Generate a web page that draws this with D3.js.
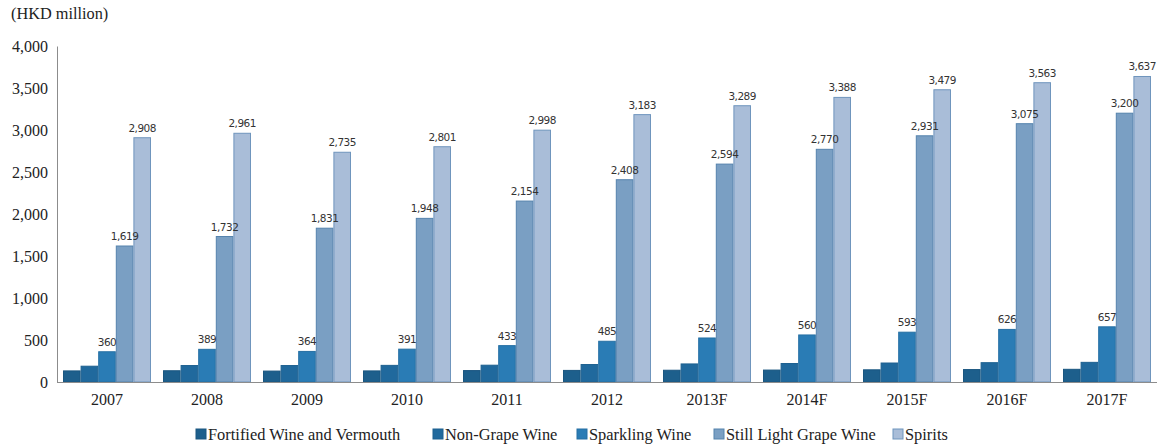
<!DOCTYPE html>
<html>
<head>
<meta charset="utf-8">
<script src="https://cdn.jsdelivr.net/npm/d3@7"></script>
<style>
  body { margin: 0; background: #fff; }
  svg { display: block; }
  .serif { font-family: "Liberation Serif", "Times New Roman", Times, serif; }
  .lbl { font-family: "DejaVu Sans", Verdana, sans-serif; }
</style>
</head>
<body>
<svg id="chart" width="1158" height="445"></svg>
<script>
const years = ["2007","2008","2009","2010","2011","2012","2013F","2014F","2015F","2016F","2017F"];
const seriesNames = ["Fortified Wine and Vermouth","Non-Grape Wine","Sparkling Wine","Still Light Grape Wine","Spirits"];
const fortified = [132,134,130,132,136,138,140,142,145,148,151];
const nonGrape  = [188,196,196,198,200,208,215,220,226,230,234];
const sparkling = [360,389,364,391,433,485,524,560,593,626,657];
const stillLight = [1619,1732,1831,1948,2154,2408,2594,2770,2931,3075,3200];
const spirits   = [2908,2961,2735,2801,2998,3183,3289,3388,3479,3563,3637];
const yTicks = [0,500,1000,1500,2000,2500,3000,3500,4000];
const labelled = [false,false,true,true,true];

const allSeries = [fortified, nonGrape, sparkling, stillLight, spirits];
const fills   = ["#1d5f8c","#20699d","#2a7cb5","#7a9fc3","#a9bdd8"];
const strokes = ["#1a5680","#1d6090","#256fa3","#5583ad","#6f95bd"];

const svg = d3.select("#chart");
const plotLeft = 57, plotRight = 1157, plotTop = 46, plotBottom = 382;

const x0 = d3.scaleBand().domain(years).range([plotLeft, plotRight]).paddingInner(0.12).paddingOuter(0.06);
const x1 = d3.scaleBand().domain(d3.range(seriesNames.length)).range([0, x0.bandwidth()]);
const y = d3.scaleLinear().domain([0, 4000]).range([plotBottom, plotTop]);

// Title
svg.append("text").attr("class", "serif").attr("x", 11).attr("y", 19)
  .attr("font-size", 16.3).attr("fill", "#222").text("(HKD million)");

// Y axis
const yAxis = d3.axisLeft(y).tickValues(yTicks).tickSize(0).tickPadding(9).tickFormat(d3.format(","));
const yg = svg.append("g").attr("transform", `translate(${plotLeft},0)`).call(yAxis);
yg.attr("font-family", null);
yg.select(".domain").attr("stroke", "#8c8c8c");
yg.selectAll("text").attr("class", "serif").attr("font-size", 16).attr("fill", "#222");

// Bars
const groups = svg.append("g").selectAll("g").data(years).join("g")
  .attr("transform", d => `translate(${x0(d)},0)`);

seriesNames.forEach((name, si) => {
  groups.append("rect")
    .attr("x", x1(si) + 0.5)
    .attr("width", x1.bandwidth() - 1)
    .attr("y", (d, i) => y(allSeries[si][i]))
    .attr("height", (d, i) => y(0) - y(allSeries[si][i]))
    .attr("fill", fills[si])
    .attr("stroke", strokes[si])
    .attr("stroke-width", 1);
});
seriesNames.forEach((name, si) => {
  if (labelled[si]) {
    groups.append("text")
      .attr("class", "lbl")
      .attr("x", x1(si) + x1.bandwidth() / 2)
      .attr("y", (d, i) => y(allSeries[si][i]) - 6)
      .attr("text-anchor", "middle")
      .attr("font-size", 10.5)
      .attr("letter-spacing", "-0.5px")
      .attr("fill", "#333")
      .text((d, i) => d3.format(",")(allSeries[si][i]));
  }
});

// X axis
const xAxis = d3.axisBottom(x0).tickSize(0).tickPadding(12);
const xg = svg.append("g").attr("transform", `translate(0,${plotBottom})`).call(xAxis);
xg.attr("font-family", null);
xg.select(".domain").attr("stroke", "#8c8c8c").attr("d", `M${plotLeft},0.5H${plotRight}`);
xg.selectAll("text").attr("class", "serif").attr("font-size", 16).attr("fill", "#222");

// Legend
const legendX = [196, 433, 577, 714, 893];
const lg = svg.append("g");
seriesNames.forEach((name, si) => {
  const g = lg.append("g").attr("transform", `translate(${legendX[si]},429)`);
  g.append("rect").attr("x", 0).attr("y", 0).attr("width", 10).attr("height", 10)
    .attr("fill", fills[si]).attr("stroke", strokes[si]);
  g.append("text").attr("class", "serif").attr("x", 12).attr("y", 10.5)
    .attr("font-size", 16.4).attr("fill", "#222").text(name);
});
</script>
</body>
</html>
